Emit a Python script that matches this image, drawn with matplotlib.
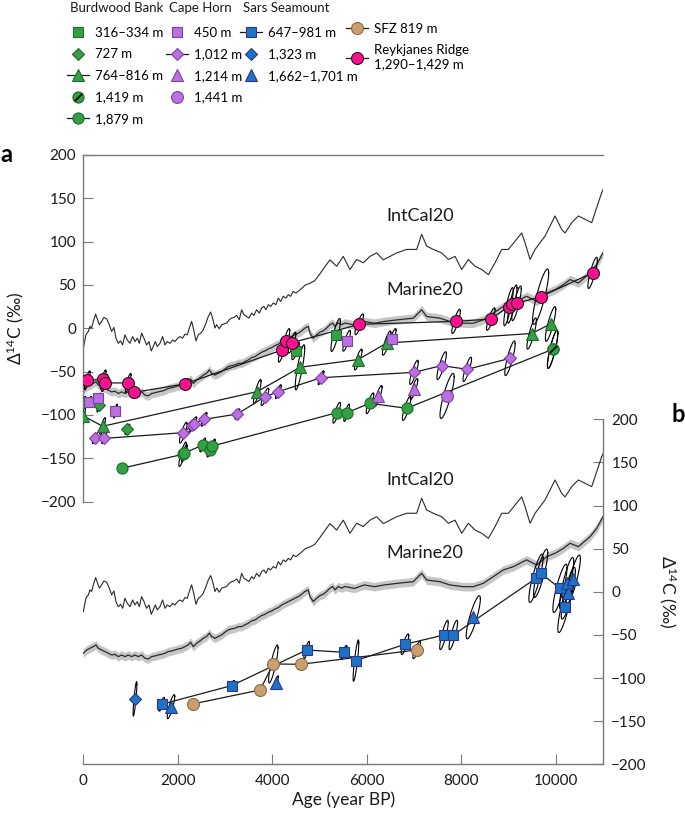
import numpy as np
import matplotlib
matplotlib.use("Agg")
import matplotlib.pyplot as plt
from matplotlib.lines import Line2D

plt.rcParams['font.family'] = ['Lato', 'DejaVu Sans']
plt.rcParams['mathtext.fontset'] = 'custom'
plt.rcParams['mathtext.rm'] = 'Lato'
plt.rcParams['mathtext.default'] = 'regular'

## calibration curves (age in year BP, Delta14C in permil)
intcal_age = [0, 56, 106, 141, 176, 212, 261, 303, 339, 388,
              437, 494, 550, 600, 649, 691, 741, 790, 832, 882,
              931, 988, 1044, 1094, 1143, 1185, 1235, 1284, 1340, 1390,
              1439, 1481, 1524, 1566, 1623, 1679, 1728, 1778, 1834, 1891,
              1940, 1997, 2046, 2102, 2152, 2201, 2244, 2293, 2328, 2385,
              2434, 2484, 2540, 2596, 2646, 2695, 2737, 2787, 2822, 2878,
              2928, 2977, 3034, 3090, 3139, 3189, 3245, 3302, 3351, 3400,
              3457, 3506, 3563, 3612, 3668, 3725, 3774, 3824, 3866, 3916,
              3965, 4021, 4078, 4127, 4176, 4233, 4289, 4339, 4388, 4444,
              4501, 4600, 4700, 4800, 4900, 5010, 5100, 5221, 5362, 5503,
              5644, 5785, 5926, 6068, 6209, 6350, 6491, 6633, 6844, 7056,
              7162, 7268, 7409, 7586, 7727, 7868, 8009, 8150, 8291, 8433,
              8574, 8715, 8856, 8997, 9138, 9279, 9350, 9456, 9562, 9773,
              9985, 10126, 10197, 10338, 10479, 10620, 10761, 10832, 10973, 11000]
intcal_d14c = [-23, -7.5, -3.6, 2.2, 0.3, 8, 16.4, 10, 4.2, 8,
               12.5, 11, 4.2, -3.6, 1, -11.4, -17.3, -14.5, -19.2, -7.5,
               -13.4, -17.3, -9.5, -15.3, -11.4, -17.3, -5.6, -11.4, -19.2, -15.3,
               -26.1, -21, -15.3, -21, -17.3, -9.5, -19.2, -15.3, -17.3, -13.4,
               -15.3, -11.4, -9.5, -11.4, -6.7, -7.5, 0.3, 8, 0.3, -14.5,
               -7.5, -5.6, -1.7, 6.1, 13.7, 18.8, 11.8, 0.3, 4.2, -0.5,
               4.2, 5, 6.1, 10, 11.8, 12.5, 14.9, 10, 21.4, 15.6,
               13.7, 11.8, 17.6, 14.9, 21.4, 17.6, 23.4, 25.3, 21.4, 27.3,
               25.3, 29.2, 27.3, 34.9, 31, 36.9, 34.9, 38.8, 36.9, 42.7,
               40.7, 45, 50, 52, 55, 63, 70, 79, 71.6, 83,
               67.8, 79.4, 75.6, 83, 87, 79, 83, 87, 91, 91,
               108.4, 94.8, 91, 87, 79.4, 83, 67.8, 79.4, 71.6, 67.8,
               62, 75.6, 91, 91, 100.6, 110, 98.7, 79.4, 91, 106.4,
               129.6, 114, 110, 121.9, 129.6, 125.8, 121.9, 133.5, 156.7, 160]

marine_age = [0, 70, 141, 212, 268, 318, 388, 459, 529, 600,
              670, 741, 811, 882, 952, 1023, 1094, 1164, 1235, 1305,
              1376, 1446, 1517, 1587, 1658, 1728, 1799, 1870, 1940, 2011,
              2081, 2152, 2222, 2272, 2328, 2399, 2469, 2540, 2610, 2667,
              2716, 2787, 2857, 2928, 2998, 3069, 3139, 3210, 3280, 3351,
              3421, 3492, 3563, 3633, 3704, 3774, 3845, 3915, 3986, 4057,
              4127, 4198, 4268, 4339, 4409, 4480, 4550, 4621, 4692, 4762,
              4797, 4868, 4938, 5009, 5079, 5150, 5220, 5277, 5326, 5397,
              5467, 5538, 5736, 5948, 6160, 6371, 6650, 6984, 7160, 7268,
              7548, 7760, 8043, 8254, 8466, 8678, 8890, 9101, 9383, 9597,
              9809, 10000, 10162, 10303, 10479, 10726, 10867, 11000]
marine_d14c = [-71.3, -67.5, -65.5, -63.6, -61.6, -65.5, -67.5, -69.4, -71.3, -73.3,
               -72.5, -75.2, -73.3, -75.2, -73.3, -75.2, -73.3, -75.2, -73.3, -77.1,
               -77.9, -75.2, -74.4, -73.3, -72.5, -71.3, -69.4, -68.6, -67.5, -66.3,
               -65.5, -63.6, -61.6, -58.5, -63.6, -59.7, -57, -53.9, -51.9, -48,
               -51.9, -53.9, -51.9, -50, -46.9, -44.2, -43, -42.3, -40.4, -40.4,
               -38.4, -36.5, -33.8, -32.7, -30, -27.6, -26.1, -23.8, -22.3, -19.9,
               -18.4, -15.3, -13.4, -11.4, -9.5, -7.5, -5.6, -2.9, 0.3, 2.2,
               -5.6, -11.4, -7.5, -4.4, -2.9, 0.3, 4.2, 6.1, 2.2, 6.1,
               4.2, 6.1, 3.9, 7.9, 5.9, 7.9, 9.8, 11.7, 21.4, 13.6,
               11.7, 7.9, 5.9, 5.9, 9.8, 17.5, 25.3, 29.1, 37, 31,
               40.7, 45, 50.4, 56.2, 52.3, 63.9, 73.6, 87]
marine_sigma = 5

## panel a: Southern Ocean corals (age, D14C, age half-width, D14C half-height)
bb_316_age = [4495, 5341]
bb_316_val = [-26.2, -7.7]
bb_316_ex = [80, 100]
bb_316_ey = [10, 19]

bb_727_age = [0, 339, 932]
bb_727_val = [-86.5, -88.5, -116.6]
bb_727_ex = [50, 50, 50]
bb_727_ey = [8, 8, 6]

bb_764_age = [0, 410, 3683, 4586, 5820, 6421, 9490, 9890]
bb_764_val = [-101, -113, -73, -45, -36, -17, -6, 5]
bb_764_ex = [50, 60, 80, 100, 80, 90, 100, 110]
bb_764_ey = [14, 10, 14, 26, 12, 14, 18, 20]

bb_1419_age = [9934]
bb_1419_val = [-24.2]
bb_1419_ex = [110]
bb_1419_ey = [22]

bb_1879_age = [812, 2103, 2140, 2527, 2681, 2730, 5363, 5574, 6068, 6844, 9934]
bb_1879_val = [-161.5, -145.4, -144, -134.6, -140.4, -135.8, -97.4, -97.4, -86.5, -92.3, -24.2]
bb_1879_ex = [50, 80, 60, 60, 60, 60, 80, 60, 80, 90, 110]
bb_1879_ey = [5, 14, 10, 8, 8, 8, 12, 10, 12, 14, 22]

ch_450_age = [121, 318, 680, 5574, 6540]
ch_450_val = [-84.7, -80.8, -95.5, -14.3, -12.3]
ch_450_ex = [50, 50, 40, 80, 80]
ch_450_ey = [6, 6, 8, 12, 12]

ch_1012_age = [240, 440, 2116, 2300, 2340, 2555, 3260, 3845, 4128, 5031, 6999, 7585, 8127, 9031]
ch_1012_val = [-127, -127, -120.4, -112, -110, -105, -98.9, -79, -73.1, -57, -50.8, -43, -47.3, -34.6]
ch_1012_ex = [50, 50, 80, 60, 60, 60, 50, 80, 60, 60, 90, 100, 90, 110]
ch_1012_ey = [6, 6, 12, 8, 8, 8, 6, 10, 8, 8, 14, 16, 14, 20]

ch_1214_age = [6244, 6999]
ch_1214_val = [-78, -70]
ch_1214_ex = [80, 80]
ch_1214_ey = [12, 12]

ch_1441_age = [7700]
ch_1441_val = [-78]
ch_1441_ex = [150]
ch_1441_ey = [26]

rr_age = [85, 420, 450, 950, 1070, 2160, 4210, 4290, 4420, 5840, 7890, 8625, 9000, 9080, 9170, 9680, 10780]
rr_val = [-60, -59, -63, -63, -74, -64, -25, -14.3, -16.6, 4.6, 8, 10.7, 25, 28, 28.8, 36.5, 64]
rr_ex = [60, 60, 60, 60, 50, 60, 80, 80, 80, 90, 90, 90, 100, 100, 100, 170, 100]
rr_ey = [11, 11, 10, 11, 6, 6, 14, 14, 12, 12, 14, 13, 22, 22, 20, 32, 18]

## panel b: North Atlantic corals
ss_647_age = [1659, 3140, 4727, 5517, 5771, 6808, 7634, 7831, 9581, 9680, 10089, 10194]
ss_647_val = [-130.4, -108.8, -67.5, -70.2, -79.8, -60.9, -50.1, -50.1, 15.6, 21.4, 4, -17.3]
ss_647_ex = [60, 60, 60, 60, 60, 80, 90, 90, 150, 150, 150, 150]
ss_647_ey = [8, 6, 10, 8, 24, 12, 17, 17, 28, 28, 28, 30]

ss_1323_age = [1094]
ss_1323_val = [-124.1]
ss_1323_ex = [40]
ss_1323_ey = [20]

ss_1662_age = [1856, 4078, 8254, 10230, 10265, 10371]
ss_1662_val = [-133.2, -105.4, -29.6, 9.8, -1.7, 14.5]
ss_1662_ex = [80, 50, 150, 150, 150, 150]
ss_1662_ey = [14, 8, 25, 30, 30, 28]

sfz_age = [2315, 3740, 4022, 4600, 7056]
sfz_val = [-130.1, -113.9, -83.7, -84.1, -67.5]
sfz_ex = [50, 50, 100, 50, 80]
sfz_ey = [6, 6, 22, 6, 10]

yticks = [-200, -150, -100, -50, 0, 50, 100, 150, 200]
xticks = [0, 2000, 4000, 6000, 8000, 10000]

GREEN, GREEN_E = '#34a043', '#1b6b2a'
PURPLE, PURPLE_E = '#bb6fe0', '#7f3fa6'
PINK, PINK_E = '#ff0f8f', '#1a1a1a'
BLUE, BLUE_E = '#1f73c4', '#29378f'
TAN, TAN_E = '#caa070', '#8c6a43'
SPINE = '#7a7a7a'
TXT = '#1a1a1a'


def ellipses(ax, ages, vals, ex, ey, rho=0.85):
    t = np.linspace(0, 2 * np.pi, 80)
    for x0, y0, a, b in zip(ages, vals, ex, ey):
        ax.plot(x0 + a * np.cos(t), y0 + b * (rho * np.cos(t) + np.sqrt(1 - rho ** 2) * np.sin(t)),
                color='k', lw=0.8, zorder=3)


def series(ax, ages, vals, ex, ey, marker, ms, fc, ec, line=False):
    ellipses(ax, ages, vals, ex, ey)
    if line:
        ax.plot(ages, vals, '-', color=TXT, lw=0.9, zorder=4)
    ax.plot(ages, vals, ls='none', marker=marker, ms=ms, mfc=fc, mec=ec, mew=0.8, zorder=5)


def curves(ax):
    m = np.array(marine_d14c)
    ax.fill_between(marine_age, m - marine_sigma, m + marine_sigma, color='#c6c6c6', lw=0, zorder=1)
    ax.plot(marine_age, marine_d14c, color='#2a2a2a', lw=0.9, zorder=2)
    ax.plot(intcal_age, intcal_d14c, color='#2a2a2a', lw=0.8, zorder=2)
    ax.text(6406, 129.6, 'IntCal20', fontsize=13, va='center', color=TXT)
    ax.text(6406, 44.5, 'Marine20', fontsize=13, va='center', color=TXT)


fig = plt.figure(figsize=(6.85, 8.16), dpi=100)
ax_a = fig.add_axes([0.1216, 0.3852, 0.7587, 0.4249])
ax_b = fig.add_axes([0.1216, 0.0634, 0.7587, 0.4228])

for ax in (ax_a, ax_b):
    ax.set_xlim(0, 11000)
    ax.set_ylim(-200, 200)
    ax.patch.set_alpha(0)
    for s in ax.spines.values():
        s.set_color(SPINE)
        s.set_linewidth(1)
    ax.set_yticks(yticks)
    ax.set_yticklabels([str(v).replace('-', '\u2212') for v in yticks])
    curves(ax)

# panel a
ax_a.spines['right'].set_visible(False)
ax_a.spines['bottom'].set_visible(False)
ax_a.tick_params(axis='x', bottom=False, labelbottom=False)
ax_a.tick_params(axis='y', direction='in', length=7, color=SPINE, labelsize=11, pad=5, labelcolor=TXT)
ax_a.set_ylabel('\u0394$^{14}$C (\u2030)', fontsize=12.5, color=TXT)
ax_a.yaxis.set_label_coords(-0.11, 0.5)

series(ax_a, bb_316_age, bb_316_val, bb_316_ex, bb_316_ey, 's', 7, GREEN, GREEN_E)
series(ax_a, bb_727_age, bb_727_val, bb_727_ex, bb_727_ey, 'D', 6.5, GREEN, GREEN_E)
series(ax_a, bb_764_age, bb_764_val, bb_764_ex, bb_764_ey, '^', 9, GREEN, GREEN_E, line=True)
series(ax_a, bb_1879_age, bb_1879_val, bb_1879_ex, bb_1879_ey, 'o', 8, GREEN, GREEN_E, line=True)
series(ax_a, bb_1419_age, bb_1419_val, bb_1419_ex, bb_1419_ey, 'o', 8, GREEN, GREEN_E)
ax_a.plot(bb_1419_age, bb_1419_val, ls='none', marker=(2, 2, -45), ms=7, mec=TXT, mew=1.3, zorder=6)
series(ax_a, ch_1012_age, ch_1012_val, ch_1012_ex, ch_1012_ey, 'D', 6.5, PURPLE, PURPLE_E, line=True)
series(ax_a, ch_450_age, ch_450_val, ch_450_ex, ch_450_ey, 's', 7, PURPLE, PURPLE_E)
series(ax_a, ch_1214_age, ch_1214_val, ch_1214_ex, ch_1214_ey, '^', 9, PURPLE, PURPLE_E)
series(ax_a, ch_1441_age, ch_1441_val, ch_1441_ex, ch_1441_ey, 'o', 8.5, PURPLE, PURPLE_E)
series(ax_a, rr_age, rr_val, rr_ex, rr_ey, 'o', 8.6, PINK, PINK_E, line=True)

# panel b
ax_b.spines['left'].set_visible(False)
ax_b.spines['top'].set_visible(False)
ax_b.yaxis.tick_right()
ax_b.set_xticks(xticks)
ax_b.tick_params(axis='both', direction='in', length=7, color=SPINE, labelsize=11, labelcolor=TXT)
ax_b.tick_params(axis='y', pad=6)
ax_b.tick_params(axis='x', pad=7)
ax_b.set_xlabel('Age (year BP)', fontsize=12.5, color=TXT)
ax_b.xaxis.set_label_coords(0.5, -0.08)
ax_b.set_ylabel('\u0394$^{14}$C (\u2030)', fontsize=12.5, rotation=270, color=TXT)
ax_b.yaxis.set_label_position('right')
ax_b.yaxis.label.set_va('bottom')
ax_b.yaxis.set_label_coords(1.104, 0.5)

series(ax_b, sfz_age, sfz_val, sfz_ex, sfz_ey, 'o', 8.6, TAN, TAN_E, line=True)
series(ax_b, ss_647_age, ss_647_val, ss_647_ex, ss_647_ey, 's', 7.2, BLUE, BLUE_E, line=True)
series(ax_b, ss_1323_age, ss_1323_val, ss_1323_ex, ss_1323_ey, 'D', 6.5, BLUE, BLUE_E)
series(ax_b, ss_1662_age, ss_1662_val, ss_1662_ex, ss_1662_ey, '^', 9, BLUE, BLUE_E)

fig.text(0.0, 1 - 155 / 816, 'a', fontsize=17, fontweight='bold', va='center', ha='left')
fig.text(1.0, 1 - 415 / 816, 'b', fontsize=17, fontweight='bold', va='center', ha='right')


# legend
def h(marker, ms, fc, ec, line=False):
    return Line2D([], [], color=TXT, lw=0.9, ls='-' if line else 'none',
                  marker=marker, ms=ms, mfc=fc, mec=ec, mew=0.8)


diag = Line2D([], [], ls='none', marker=(2, 2, -45), ms=7, mec=TXT, mew=1.3)
cols = [
    ('Burdwood Bank', 67,
     [h('s', 7, GREEN, GREEN_E), h('D', 6.5, GREEN, GREEN_E), h('^', 9, GREEN, GREEN_E, True),
      (h('o', 8, GREEN, GREEN_E), diag), h('o', 8, GREEN, GREEN_E, True)],
     ['316\u2013334 m', '727 m', '764\u2013816 m', '1,419 m', '1,879 m']),
    ('Cape Horn', 166,
     [h('s', 7, PURPLE, PURPLE_E), h('D', 6.5, PURPLE, PURPLE_E, True), h('^', 9, PURPLE, PURPLE_E),
      h('o', 8.5, PURPLE, PURPLE_E)],
     ['450 m', '1,012 m', '1,214 m', '1,441 m']),
    ('Sars Seamount', 240,
     [h('s', 7.2, BLUE, BLUE_E, True), h('D', 6.5, BLUE, BLUE_E), h('^', 9, BLUE, BLUE_E)],
     ['647\u2013981 m', '1,323 m', '1,662\u20131,701 m']),
]
leg_kw = dict(loc='upper left', frameon=False, fontsize=9.5, handlelength=1.65, handletextpad=0.45,
              labelspacing=0.72, borderpad=0, borderaxespad=0)
for title, x0, hs, ls in cols:
    fig.text((x0 + 3) / 685, 1 - 8 / 816, title, fontsize=9.5, va='center', ha='left', color=TXT)
    fig.legend(hs, ls, bbox_to_anchor=(x0 / 685, 1 - 27 / 816), **leg_kw)

fig.legend([h('o', 8.6, TAN, TAN_E, True), h('o', 8.6, PINK, PINK_E, True)],
           ['SFZ 819 m', 'Reykjanes Ridge\n1,290\u20131,429 m'],
           bbox_to_anchor=(346 / 685, 1 - 23 / 816), **leg_kw)

plt.savefig('out.png', dpi=100)
